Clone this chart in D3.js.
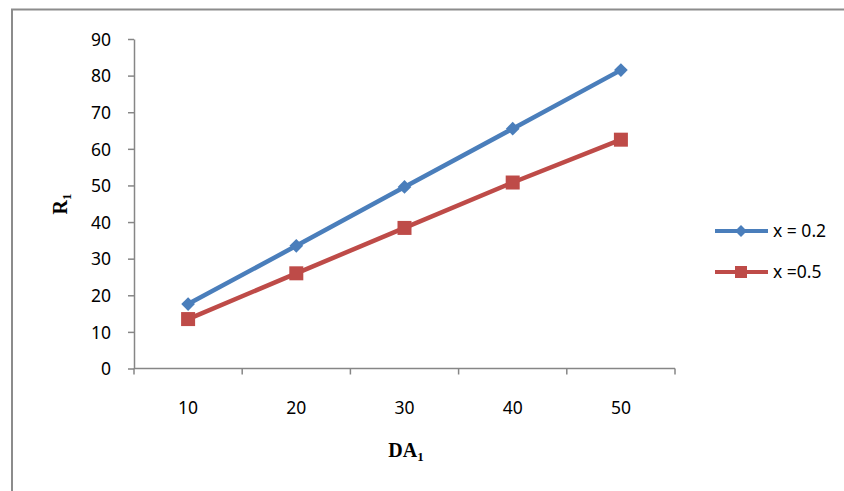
<!DOCTYPE html>
<html>
<head>
<meta charset="utf-8">
<script src="https://cdn.jsdelivr.net/npm/d3@7"></script>
<style>
    body { margin: 0; background: #fff; }
    .tickLabel { font-family: "Noto Sans", sans-serif; font-size: 17.5px; fill: #000; }
    .axisTitle { font-family: "Liberation Serif", "Times New Roman", serif; font-weight: bold; font-size: 20px; fill: #000; }
</style>
</head>
<body>
<script>
// DATA

const categories = [10, 20, 30, 40, 50];
const seriesNames = ["x = 0.2", "x =0.5"];
const blueValues = [17.6, 33.5, 49.6, 65.5, 81.5];
const redValues = [13.5, 26.0, 38.4, 50.8, 62.5];
const yTicks = [0, 10, 20, 30, 40, 50, 60, 70, 80, 90];

// CONSTANTS

const width = 844,
    height = 491;
const plotLeft = 134,
    plotRight = 675,
    plotTop = 39,
    plotBottom = 368.5;
const axisColor = "#868686";
const colors = ["#4A7EBB", "#BE4B48"];

const svg = d3.select("body")
    .append("svg")
    .attr("width", width)
    .attr("height", height);

// outer frame (only left and top edges fall inside the picture)
svg.append("rect")
    .attr("x", 12)
    .attr("y", 9.5)
    .attr("width", width + 20)
    .attr("height", height + 20)
    .attr("fill", "none")
    .attr("stroke", "#8c8c8c")
    .attr("stroke-width", 2);

// Scales
const x = d3.scaleBand()
    .domain(categories)
    .range([plotLeft, plotRight]);

const y = d3.scaleLinear()
    .domain([0, 90])
    .range([plotBottom, plotTop]);

// y axis
const yAxis = svg.append("g")
    .attr("transform", `translate(${plotLeft},0)`)
    .call(d3.axisLeft(y).tickValues(yTicks).tickSize(6).tickPadding(17).tickSizeOuter(0));
yAxis.select(".domain").attr("stroke", axisColor).attr("stroke-width", 1.5);
yAxis.selectAll(".tick line").attr("stroke", axisColor).attr("stroke-width", 1.5);
yAxis.selectAll(".tick text").attr("class", "tickLabel").attr("dy", "0.36em");

// x axis: ticks between categories, labels at band centres
const xAxisG = svg.append("g")
    .attr("transform", `translate(0,${plotBottom})`);
xAxisG.append("line")
    .attr("x1", plotLeft)
    .attr("x2", plotRight)
    .attr("stroke", axisColor)
    .attr("stroke-width", 1.5);
const boundaries = categories.map(c => x(c)).concat([x(categories[categories.length - 1]) + x.bandwidth()]);
xAxisG.selectAll(".xtick")
    .data(boundaries)
    .enter()
    .append("line")
    .attr("x1", d => d)
    .attr("x2", d => d)
    .attr("y1", 0)
    .attr("y2", 6)
    .attr("stroke", axisColor)
    .attr("stroke-width", 1.5);
xAxisG.selectAll(".xlabel")
    .data(categories)
    .enter()
    .append("text")
    .attr("class", "tickLabel")
    .attr("text-anchor", "middle")
    .attr("x", d => x(d) + x.bandwidth() / 2)
    .attr("y", 45)
    .text(d => d);

// Axis titles
const yTitle = svg.append("text")
    .attr("class", "axisTitle")
    .attr("text-anchor", "middle")
    .attr("transform", "translate(67,204) rotate(-90)");
yTitle.append("tspan").text("R");
yTitle.append("tspan").attr("font-size", "13px").attr("dy", "4").text("1");

const xTitle = svg.append("text")
    .attr("class", "axisTitle")
    .attr("text-anchor", "middle")
    .attr("x", 406)
    .attr("y", 457);
xTitle.append("tspan").text("DA");
xTitle.append("tspan").attr("font-size", "13px").attr("dy", "4").text("1");

// Lines and markers
const line = d3.line()
    .x((d, i) => x(categories[i]) + x.bandwidth() / 2)
    .y(d => y(d));

const allSeries = [blueValues, redValues];

allSeries.forEach(function (values, s) {
    svg.append("path")
        .datum(values)
        .attr("d", line)
        .attr("fill", "none")
        .attr("stroke", colors[s])
        .attr("stroke-width", 4.5)
        .attr("stroke-linejoin", "round");
});

// diamonds
svg.selectAll(".diamond")
    .data(blueValues)
    .enter()
    .append("path")
    .attr("d", d3.symbol().type(d3.symbolDiamond2).size(120))
    .attr("transform", (d, i) => `translate(${x(categories[i]) + x.bandwidth() / 2},${y(d)})`)
    .attr("fill", colors[0]);

// squares
svg.selectAll(".square")
    .data(redValues)
    .enter()
    .append("rect")
    .attr("x", (d, i) => x(categories[i]) + x.bandwidth() / 2 - 7)
    .attr("y", d => y(d) - 7)
    .attr("width", 14)
    .attr("height", 14)
    .attr("fill", colors[1]);

// Legend
const legendY = [231, 272];
seriesNames.forEach(function (name, s) {
    const g = svg.append("g").attr("transform", `translate(0,${legendY[s]})`);
    g.append("line")
        .attr("x1", 715)
        .attr("x2", 768)
        .attr("stroke", colors[s])
        .attr("stroke-width", 4);
    if (s === 0) {
        g.append("path")
            .attr("d", d3.symbol().type(d3.symbolDiamond2).size(90))
            .attr("transform", "translate(741,0)")
            .attr("fill", colors[s]);
    } else {
        g.append("rect")
            .attr("x", 735)
            .attr("y", -6)
            .attr("width", 12)
            .attr("height", 12)
            .attr("fill", colors[s]);
    }
    g.append("text")
        .attr("class", "tickLabel")
        .attr("x", 773)
        .attr("dy", "0.36em")
        .text(name);
});
</script>
</body>
</html>
